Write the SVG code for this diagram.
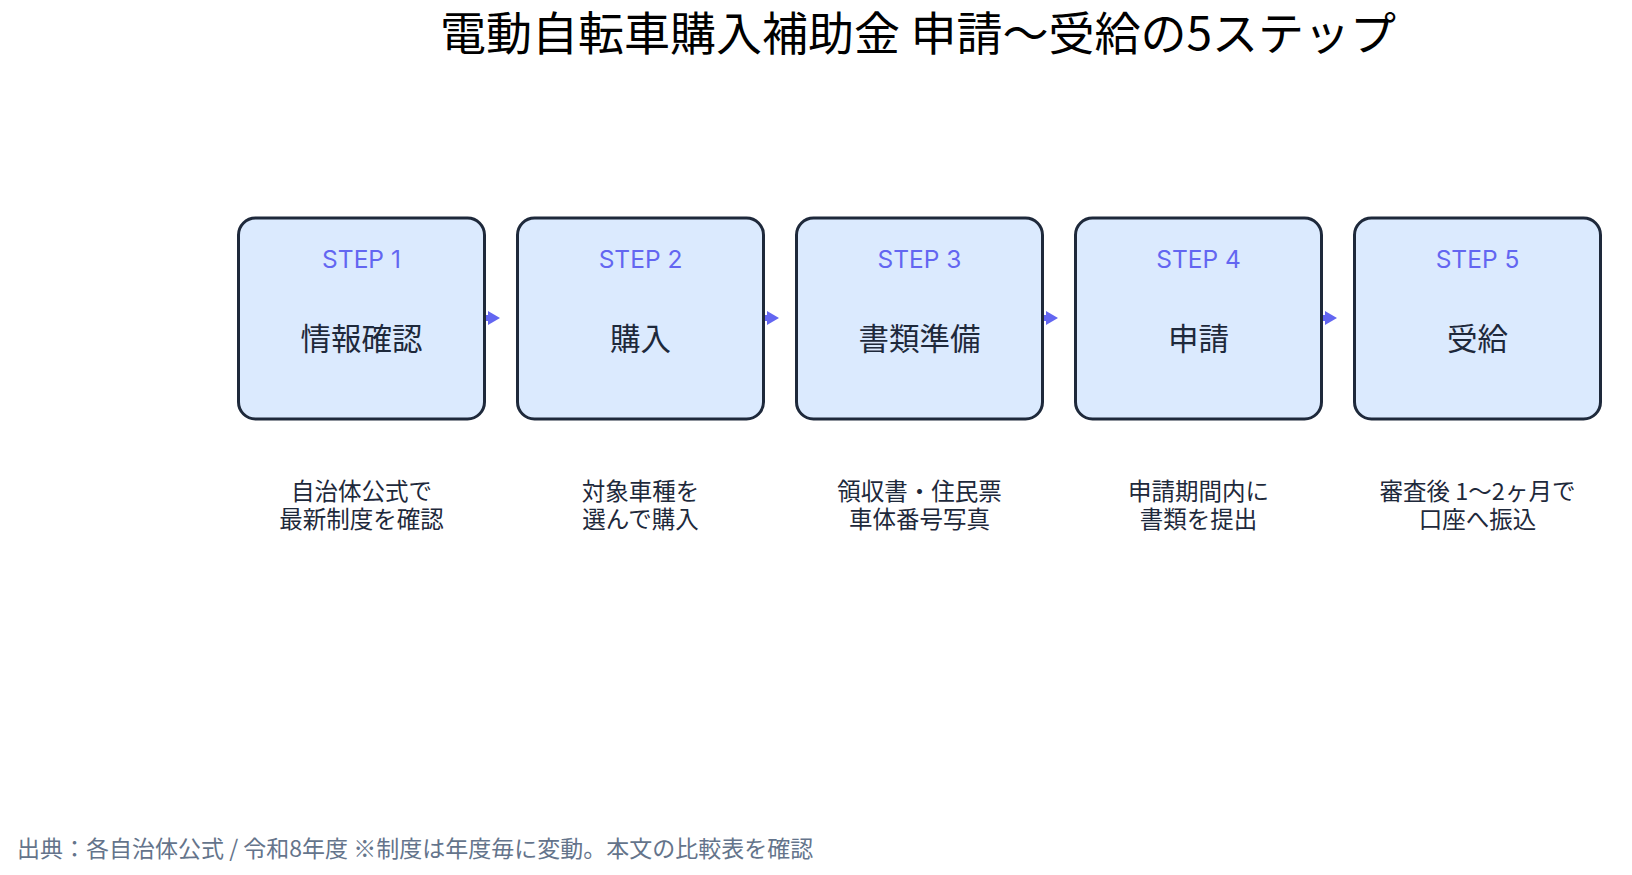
<svg xmlns="http://www.w3.org/2000/svg" width="1632" height="875" viewBox="0 0 1632 875">
<defs>
<style>
.box{fill:#dbeafe;stroke:#1e293b;stroke-width:3}
.step{font-family:Inter,"Noto Sans","Noto Sans CJK JP",sans-serif;font-size:24.5px;fill:#6366f1;text-anchor:middle}
.lbl{font-family:"Noto Sans CJK JP",sans-serif;font-size:30.5px;fill:#1e293b;text-anchor:middle}
.desc{font-family:"Noto Sans CJK JP",sans-serif;font-size:23.5px;fill:#1e293b;text-anchor:middle}
.title{font-family:"Noto Sans CJK JP",sans-serif;font-size:46px;fill:#000;text-anchor:middle}
.foot{font-family:"Noto Sans CJK JP",sans-serif;font-size:23px;fill:#64748b}
.conn{stroke:#6366f1;stroke-width:6;stroke-linecap:round;fill:none}
.head{fill:#6366f1}
</style>
</defs>
<rect width="1632" height="875" fill="#ffffff"/>
<text class="title" x="918" y="50">電動自転車購入補助金 申請〜受給の5ステップ</text>
<g id="connectors">
<path class="conn" d="M483,318 L489,318"/><polygon class="head" points="488,311 500,318 488,325"/>
<path class="conn" d="M762,318 L768,318"/><polygon class="head" points="767,311 779,318 767,325"/>
<path class="conn" d="M1041,318 L1047,318"/><polygon class="head" points="1046,311 1058,318 1046,325"/>
<path class="conn" d="M1320,318 L1326,318"/><polygon class="head" points="1325,311 1337,318 1325,325"/>
</g>
<g id="step1">
<rect class="box" x="238.5" y="218" width="246" height="201" rx="17"/>
<text class="step" x="361.5" y="268">STEP 1</text>
<text class="lbl" x="361.5" y="350">情報確認</text>
<text class="desc" x="361.5" y="500">自治体公式で</text>
<text class="desc" x="361.5" y="528">最新制度を確認</text>
</g>
<g id="step2">
<rect class="box" x="517.5" y="218" width="246" height="201" rx="17"/>
<text class="step" x="640.5" y="268">STEP 2</text>
<text class="lbl" x="640.5" y="350">購入</text>
<text class="desc" x="640.5" y="500">対象車種を</text>
<text class="desc" x="640.5" y="528">選んで購入</text>
</g>
<g id="step3">
<rect class="box" x="796.5" y="218" width="246" height="201" rx="17"/>
<text class="step" x="919.5" y="268">STEP 3</text>
<text class="lbl" x="919.5" y="350">書類準備</text>
<text class="desc" x="919.5" y="500">領収書・住民票</text>
<text class="desc" x="919.5" y="528">車体番号写真</text>
</g>
<g id="step4">
<rect class="box" x="1075.5" y="218" width="246" height="201" rx="17"/>
<text class="step" x="1198.5" y="268">STEP 4</text>
<text class="lbl" x="1198.5" y="350">申請</text>
<text class="desc" x="1198.5" y="500">申請期間内に</text>
<text class="desc" x="1198.5" y="528">書類を提出</text>
</g>
<g id="step5">
<rect class="box" x="1354.5" y="218" width="246" height="201" rx="17"/>
<text class="step" x="1477.5" y="268">STEP 5</text>
<text class="lbl" x="1477.5" y="350">受給</text>
<text class="desc" x="1477.5" y="500">審査後 1〜2ヶ月で</text>
<text class="desc" x="1477.5" y="528">口座へ振込</text>
</g>
<text class="foot" x="17" y="857">出典：各自治体公式 / 令和8年度 ※制度は年度毎に変動。本文の比較表を確認</text>
</svg>
